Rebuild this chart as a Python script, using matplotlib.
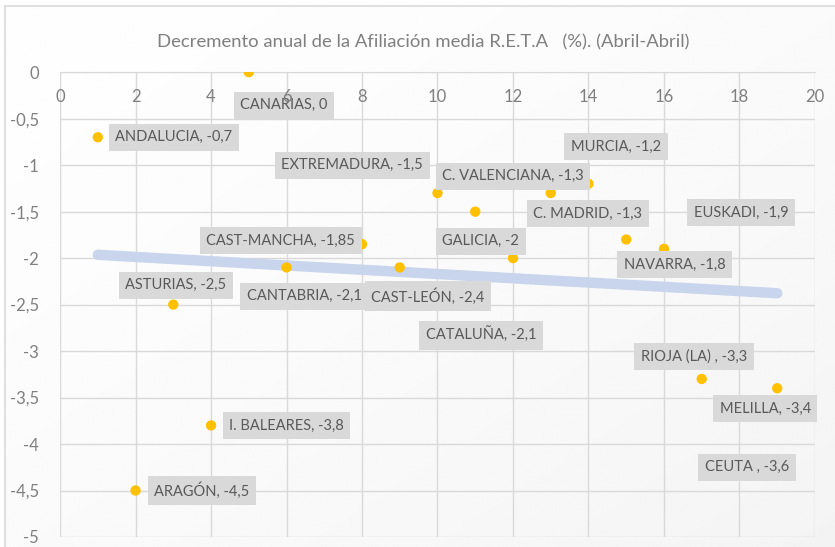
import numpy as np
import matplotlib
matplotlib.use('Agg')
import matplotlib.pyplot as plt
from matplotlib.patches import Rectangle

plt.rcParams['font.family'] = ['Lato', 'DejaVu Sans']

# data
regions = ['ANDALUCIA', 'ARAGÓN', 'ASTURIAS', 'I. BALEARES', 'CANARIAS',
           'CANTABRIA', 'CAST-LEÓN', 'CAST-MANCHA', 'CATALUÑA', 'C. VALENCIANA',
           'EXTREMADURA', 'GALICIA', 'C. MADRID', 'MURCIA', 'NAVARRA',
           'EUSKADI', 'RIOJA (LA) ', 'CEUTA ', 'MELILLA']
x_idx = list(range(1, 20))
decremento = [-0.7, -4.5, -2.5, -3.8, 0, -2.1, -2.4, -1.85, -2.1, -1.3,
              -1.5, -2, -1.3, -1.2, -1.8, -1.9, -3.3, -3.6, -3.4]
value_text = ['-0,7', '-4,5', '-2,5', '-3,8', '0', '-2,1', '-2,4', '-1,85', '-2,1', '-1,3',
              '-1,5', '-2', '-1,3', '-1,2', '-1,8', '-1,9', '-3,3', '-3,6', '-3,4']

# where Excel left the label boxes (data coords)
label_pos = [(3.02, -0.70), (3.76, -4.50), (3.07, -2.29), (6.0, -3.80), (5.93, -0.355),
             (6.47, -2.41), (9.75, -2.41), (5.85, -1.81), (11.15, -2.83), (12.0, -1.12),
             (7.74, -1.00), (11.15, -1.82), (13.98, -1.52), (14.73, -0.80), (16.28, -2.07),
             (18.04, -1.51), (16.8, -3.06), (18.2, -4.25), (18.68, -3.62)]

fig = plt.figure(figsize=(8.35, 5.47), dpi=100)
fig.patch.set_facecolor('white')

# chart area background: soft gradient + border (right/bottom edge cut off like the original)
bg = fig.add_axes([0.006, -0.01, 1.0, 0.999], zorder=-5)
gx, gy = np.meshgrid(np.linspace(0, 1, 200), np.linspace(0, 1, 200))
grad = 0.995 - 0.04 * np.clip((gx + gy) / 2, 0, 1) ** 1.5
bg.imshow(grad, cmap='gray', vmin=0, vmax=1, extent=[0, 1, 0, 1], aspect='auto', origin='upper')
bg.add_patch(Rectangle((0, 0), 1.2, 1, fill=False, ec='#E0E0E0', lw=1.5, transform=bg.transAxes, clip_on=False))
bg.set_axis_off()

pos = [0.0719, 0.0183, 0.9041, 0.8497]
ax = fig.add_axes(pos)

# trend line (linear)
k, b = np.polyfit(x_idx, decremento, 1)
xt = np.array([x_idx[0], x_idx[-1]])
ax.plot(xt, k * xt + b, color='#C8D5EC', lw=7.5, solid_capstyle='round', zorder=2)

ax.scatter(x_idx, decremento, s=55, color='#FFC000', zorder=3, edgecolors='none')

for i in range(len(regions)):
    ax.text(label_pos[i][0], label_pos[i][1], f'{regions[i]}, {value_text[i]}',
            ha='center', va='center', fontsize=10.5, color='#595959', zorder=4,
            bbox=dict(boxstyle='square,pad=0.45', fc='#D9D9D9', ec='none'))

ax.set_xlim(0, 20)
ax.set_ylim(-5, 0)
ax.set_xticks(range(0, 21, 2))
ax.set_yticks(np.arange(-5, 0.01, 0.5))
ax.set_yticklabels([('%g' % v).replace('.', ',') for v in np.arange(-5, 0.01, 0.5)])
ax.grid(True, color='#D9D9D9', lw=1)
ax.set_axisbelow(True)
for s in ['top', 'right', 'left']:
    ax.spines[s].set_visible(False)
ax.spines['bottom'].set_position(('data', 0))
ax.spines['bottom'].set_color('#D9D9D9')
ax.tick_params(axis='both', length=0, labelsize=12, labelcolor='#7F7F7F')
ax.tick_params(axis='x', labelbottom=False)
ax.tick_params(axis='y', pad=15)
ax.set_facecolor('none')

# x tick labels sit on top of the data labels in the original
ax2 = fig.add_axes(pos, zorder=5)
ax2.set_xlim(0, 20)
ax2.set_ylim(-5, 0)
ax2.set_xticks(range(0, 21, 2))
ax2.set_yticks([])
ax2.patch.set_visible(False)
for s in ['top', 'right', 'left', 'bottom']:
    ax2.spines[s].set_visible(False)
ax2.spines['bottom'].set_position(('data', 0))
ax2.tick_params(axis='x', length=0, labelsize=12, labelcolor='#7F7F7F', pad=12)

fig.text(0.507, 0.923, 'Decremento anual de la Afiliación media R.E.T.A   (%). (Abril-Abril)',
         ha='center', va='center', fontsize=13.3, color='#7F7F7F')

fig.savefig('out.png', dpi=100)
